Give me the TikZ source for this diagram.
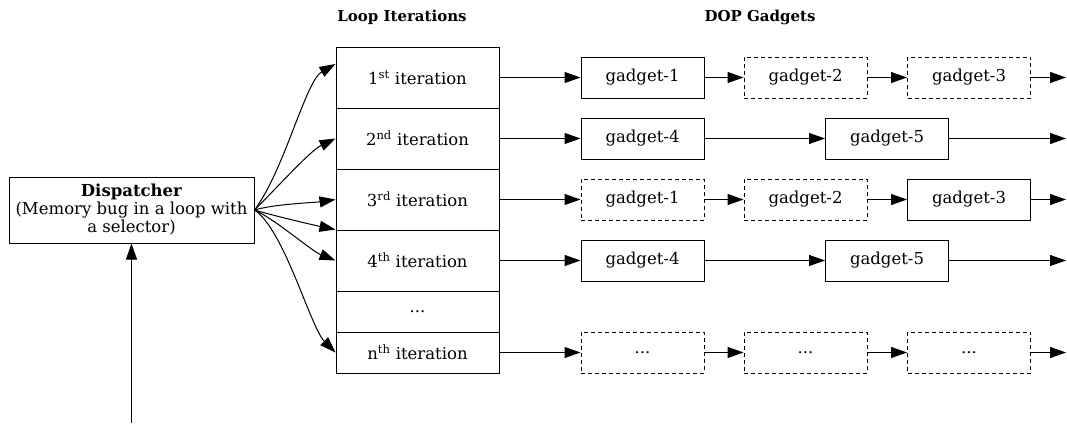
\documentclass[tikz,border=0pt]{standalone}
\usepackage{fontspec}
\setmainfont{DejaVu Serif}
\usetikzlibrary{arrows.meta}
\begin{document}
\begin{tikzpicture}[x=1pt,y=-1pt,
  every node/.style={font=\fontsize{16.5}{18}\selectfont},
  box/.style={draw, line width=1pt, inner sep=0pt, minimum width=123pt, minimum height=41pt},
  gsolid/.style={box},
  gdash/.style={box, dash pattern=on 4pt off 3pt},
  itbox/.style={draw, line width=1pt, inner sep=0pt, minimum width=163pt},
  link/.style={line width=1pt, -{Triangle[length=16pt,width=11pt]}},
  head/.style={font=\fontsize{15}{18}\selectfont\bfseries}
]
\useasboundingbox (0,0) rectangle (1067,423);

% column headers
\node[head] (hloop) at (402,17) {Loop Iterations};
\node[head] (hdop) at (760,17) {DOP Gadgets};

% dispatcher
\node[draw, line width=1pt, minimum width=245pt, minimum height=66pt,
      align=center, inner sep=0pt] (disp) at (131.5,210)
  {\textbf{Dispatcher}\\(Memory bug in a loop with\\a selector)};
\coordinate (src) at (131.5,423);
\draw[link] (src) -- (disp.south);

% loop iterations
\node[itbox, minimum height=61pt] (it1) at (417.5,77.5) {1\textsuperscript{st} iteration};
\node[itbox, minimum height=61pt] (it2) at (417.5,138.5) {2\textsuperscript{nd} iteration};
\node[itbox, minimum height=61pt] (it3) at (417.5,199.5) {3\textsuperscript{rd} iteration};
\node[itbox, minimum height=61pt] (it4) at (417.5,260.5) {4\textsuperscript{th} iteration};
\node[itbox, minimum height=41pt] (itd) at (417.5,311.5) {...};
\node[itbox, minimum height=41pt] (itn) at (417.5,352.5) {n\textsuperscript{th} iteration};

% dispatcher fans out to the iterations
\draw[link] (disp.east) .. controls +(30,-40) and +(-30,17) .. ([yshift=13.5pt]it1.west);
\draw[link] (disp.east) .. controls +(25,-25) and +(-25,12) .. (it2.west);
\draw[link] (disp.east) .. controls +(20,-6) and +(-20,3) .. (it3.west);
\draw[link] (disp.east) .. controls +(20,6) and +(-20,-4) .. (it4.north west);
\draw[link] (disp.east) .. controls +(22,10) and +(-25,-10) .. (it4.west);
\draw[link] (disp.east) .. controls +(30,20) and +(-25,-25) .. (itn.west);

% gadgets
\node[gsolid] (g11) at (642.5,77.5) {gadget-1};
\node[gdash]  (g12) at (805.5,77.5) {gadget-2};
\node[gdash]  (g13) at (969,77.5) {gadget-3};
\coordinate (e1) at (1066,77.5);

\node[gsolid] (g21) at (642.5,138.5) {gadget-4};
\node[gsolid] (g22) at (887,138.5) {gadget-5};
\coordinate (e2) at (1066,138.5);

\node[gdash]  (g31) at (642.5,199.5) {gadget-1};
\node[gdash]  (g32) at (805.5,199.5) {gadget-2};
\node[gsolid] (g33) at (969,199.5) {gadget-3};
\coordinate (e3) at (1066,199.5);

\node[gsolid] (g41) at (642.5,260.5) {gadget-4};
\node[gsolid] (g42) at (887,260.5) {gadget-5};
\coordinate (e4) at (1066,260.5);

\node[gdash] (gn1) at (642.5,352.5) {...};
\node[gdash] (gn2) at (805.5,352.5) {...};
\node[gdash] (gn3) at (969,352.5) {...};
\coordinate (en) at (1066,352.5);

% gadget chains
\draw[link] (it1.east) -- (g11.west);
\draw[link] (g11.east) -- (g12.west);
\draw[link] (g12.east) -- (g13.west);
\draw[link] (g13.east) -- (e1);

\draw[link] (it2.east) -- (g21.west);
\draw[link] (g21.east) -- (g22.west);
\draw[link] (g22.east) -- (e2);

\draw[link] (it3.east) -- (g31.west);
\draw[link] (g31.east) -- (g32.west);
\draw[link] (g32.east) -- (g33.west);
\draw[link] (g33.east) -- (e3);

\draw[link] (it4.east) -- (g41.west);
\draw[link] (g41.east) -- (g42.west);
\draw[link] (g42.east) -- (e4);

\draw[link] (itn.east) -- (gn1.west);
\draw[link] (gn1.east) -- (gn2.west);
\draw[link] (gn2.east) -- (gn3.west);
\draw[link] (gn3.east) -- (en);
\end{tikzpicture}
\end{document}
